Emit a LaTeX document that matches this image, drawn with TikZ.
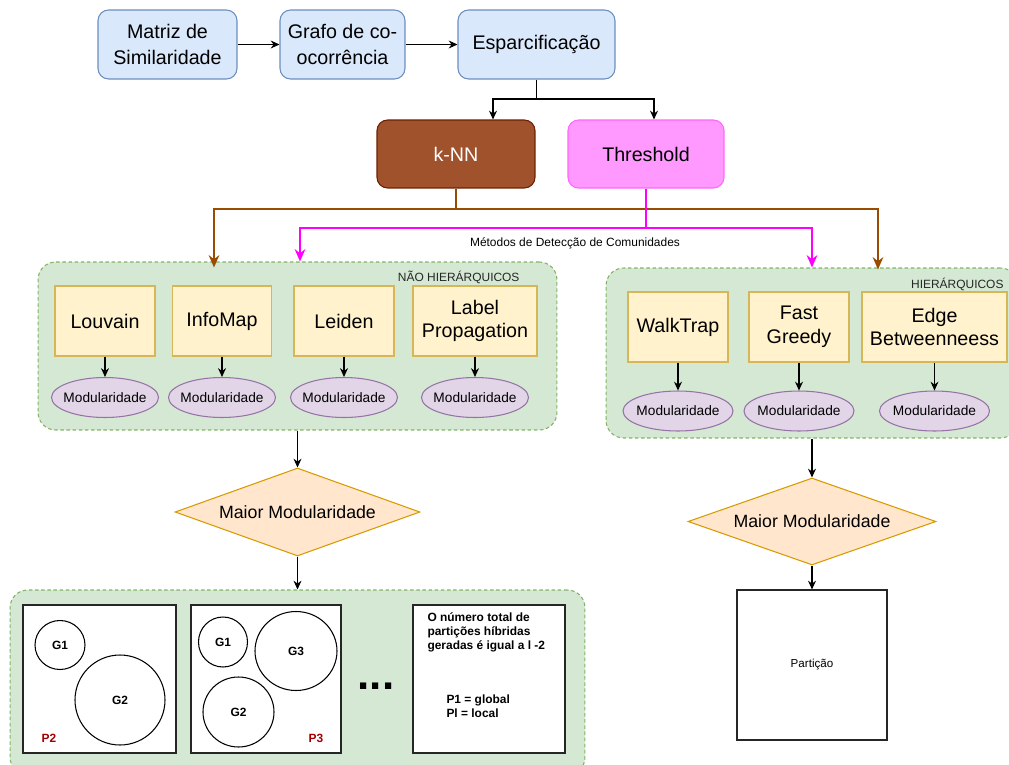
\documentclass[tikz,border=0pt]{standalone}
\usepackage{fontspec}
\setmainfont{Liberation Sans}
\usetikzlibrary{positioning, arrows.meta, shapes.geometric, calc}
\definecolor{blueface}{HTML}{DAE8FC}
\definecolor{blueline}{HTML}{6C8EBF}
\definecolor{knnface}{HTML}{A0522D}
\definecolor{knnedge}{HTML}{6D1F00}
\definecolor{pinkface}{HTML}{FF99FF}
\definecolor{pinkedge}{HTML}{FF66FF}
\definecolor{brownarrow}{HTML}{994C00}
\definecolor{pinkarrow}{HTML}{FF00FF}
\definecolor{algface}{HTML}{FFF2CC}
\definecolor{algedge}{HTML}{D6B656}
\definecolor{modface}{HTML}{E1D5E7}
\definecolor{modedge}{HTML}{9673A6}
\definecolor{groupface}{HTML}{D5E8D4}
\definecolor{groupedge}{HTML}{82B366}
\definecolor{decface}{HTML}{FFE6CC}
\definecolor{decedge}{HTML}{D79B00}
\definecolor{partred}{HTML}{A50000}

\begin{document}
\begin{tikzpicture}[x=0.02cm, y=-0.02cm, line width=0.6pt,
    flowbox/.style={draw=blueline, fill=blueface, rounded corners=6pt,
      minimum height=1.38cm, align=center, inner sep=2pt,
      font=\fontsize{11.2}{14.5}\selectfont},
    algbox/.style={draw=algedge, fill=algface, minimum height=1.4cm,
      align=center, inner sep=2pt, font=\fontsize{11.2}{13.5}\selectfont},
    modnode/.style={ellipse, draw=modedge, fill=modface, minimum width=2.14cm,
      minimum height=0.8cm, inner xsep=-2.6pt, inner ysep=0pt,
      font=\fontsize{7.8}{9}\selectfont},
    group/.style={draw=groupedge, fill=groupface, dash pattern=on 2pt off 1.5pt,
      rounded corners=10pt},
    grouptitle/.style={font=\fontsize{6.8}{8}\selectfont, text=black!85, inner sep=0pt},
    decision/.style={diamond, draw=decedge, fill=decface, shape aspect=2.8,
      inner sep=0pt, font=\fontsize{10.1}{12}\selectfont},
    partbox/.style={draw=black!85, fill=white, minimum height=2.96cm},
    clust/.style={ellipse, draw=black, inner sep=0pt,
      font=\fontsize{6.8}{8}\selectfont\bfseries},
    note/.style={align=left, inner sep=0pt, font=\fontsize{6.8}{7.9}\selectfont\bfseries},
    arr/.style={-{Stealth[length=5pt, width=4.5pt]}},
    knnarr/.style={brownarrow, line width=1.1pt, -{Stealth[length=7pt, width=6pt]}},
    thrarr/.style={pinkarrow, line width=1.1pt, -{Stealth[length=7pt, width=6pt]}}]
  \useasboundingbox (0,0) rectangle (1009,765);

  % pipeline
  \node[flowbox, minimum width=2.78cm] (mat) at (167.5,44.5) {Matriz de\\Similaridade};
  \node[flowbox, minimum width=2.5cm] (gra) at (342.5,44.5) {Grafo de co-\\ocorrência};
  \node[flowbox, minimum width=3.14cm] (esp) at (536.5,44.5) {Esparcificação};
  \draw[arr] (mat) -- (gra);
  \draw[arr] (gra) -- (esp);

  \node[flowbox, draw=knnedge, fill=knnface, text=white, minimum width=3.16cm,
    minimum height=1.36cm] (knn) at (456,154) {k-NN};
  \node[flowbox, draw=pinkedge, fill=pinkface, minimum width=3.12cm,
    minimum height=1.36cm] (thr) at (646,154) {Threshold};
  \coordinate (espj) at (536.5,99);
  \draw (esp.south) -- (espj);
  \draw[arr] (espj) -| ($(knn.north)+(37,0)$);
  \draw[arr] (espj) -| ($(thr.north)+(8,0)$);

  % groups
  \node[group, minimum width=10.38cm, minimum height=3.36cm] (nh) at (297.5,346) {};
  \node[grouptitle, anchor=east] at (520,277) {NÃO HIERÁRQUICOS};
  \node[group, minimum width=8.24cm, minimum height=3.4cm] (hi) at (812,353) {};
  \node[grouptitle, anchor=east] at (1004,284) {HIERÁRQUICOS};

  \coordinate (knnj) at (456,209);
  \draw[knnarr] (knn.south) -- (knnj) -| ($(nh.north)+(-83.5,6)$);
  \draw[knnarr] (knnj) -| ($(hi.north)+(66,2)$);
  \coordinate (thrj) at (646,228);
  \draw[thrarr] (thr.south) -- (thrj) -| ($(nh.north)+(2.5,0)$);
  \draw[thrarr] (thrj) -| (hi.north);
  \node[grouptitle, text=black] (metodos) at (575,243) {Métodos de Detecção de Comunidades};

  \foreach \name/\xc/\bw/\txt in {lou/105/2.0/Louvain, inf/222/1.98/InfoMap,
      lei/344/2.0/Leiden, lab/475/2.48/{Label\\Propagation}} {
    \node[algbox, minimum width=\bw cm] (\name) at (\xc,321) {\txt};
    \node[modnode] (\name m) at (\xc,397.5) {Modularidade};
    \draw[arr] (\name) -- (\name m);
  }
  \foreach \name/\xc/\bw/\txt in {wal/678/2.0/WalkTrap, fas/799/2.0/{Fast\\Greedy},
      edg/934.5/2.9/{Edge\\Betweenneess}} {
    \node[algbox, minimum width=\bw cm] (\name) at (\xc,327) {\txt};
    \node[modnode, minimum width=2.2cm] (\name m) at (\xc,411) {Modularidade};
    \draw[arr] (\name) -- (\name m);
  }

  % choice of the best partition
  \node[decision, minimum width=4.9cm, minimum height=1.76cm] (dl) at (297.5,512) {Maior Modularidade};
  \node[decision, minimum width=4.96cm, minimum height=1.74cm] (dr) at (812,521.5) {Maior Modularidade};
  \draw[arr] (nh.south) -- (dl.north);
  \draw[arr] (hi.south) -- (dr.north);

  \node[group, minimum width=11.5cm, minimum height=3.7cm] (bot) at (297.5,682.5) {};
  \draw[arr] (dl.south) -- (bot.north);
  \node[partbox, minimum width=3cm, minimum height=3cm,
    font=\fontsize{6.6}{8}\selectfont] (part) at (812,665) {Partição};
  \draw[arr] (dr.south) -- (part.north);

  % hybrid partitions
  \node[partbox, minimum width=3.06cm] (p2) at (99.5,679) {};
  \node[partbox, minimum width=3cm] (p3) at (266,679) {};
  \node[partbox, minimum width=3.04cm] (tot) at (489,679) {};
  \foreach \name/\xc/\yc/\bw/\bh/\txt in {p2a/60/645/50/49/G1, p2b/120/700/90/90/G2,
      p3a/223/642/49/50/G1, p3c/296/651/82/79/G3, p3b/238.5/712/71/70/G2} {
    \node[clust, minimum width=\bw*0.02cm, minimum height=\bh*0.02cm] (\name) at (\xc,\yc) {\txt};
  }
  \node[note, text=partred] (p2l) at (49,738) {P2};
  \node[note, text=partred] (p3l) at (316,738) {P3};
  \node[font=\fontsize{25}{25}\selectfont\bfseries, anchor=base, inner sep=0pt] (dots) at (376,689) {...};
  \node[note, anchor=north west] (totl) at (427,612) {O número total de\\partições híbridas\\geradas é igual a l -2};
  \node[note, anchor=north west] (pl) at (446,694) {P1 = global\\Pl = local};
\end{tikzpicture}
\end{document}
